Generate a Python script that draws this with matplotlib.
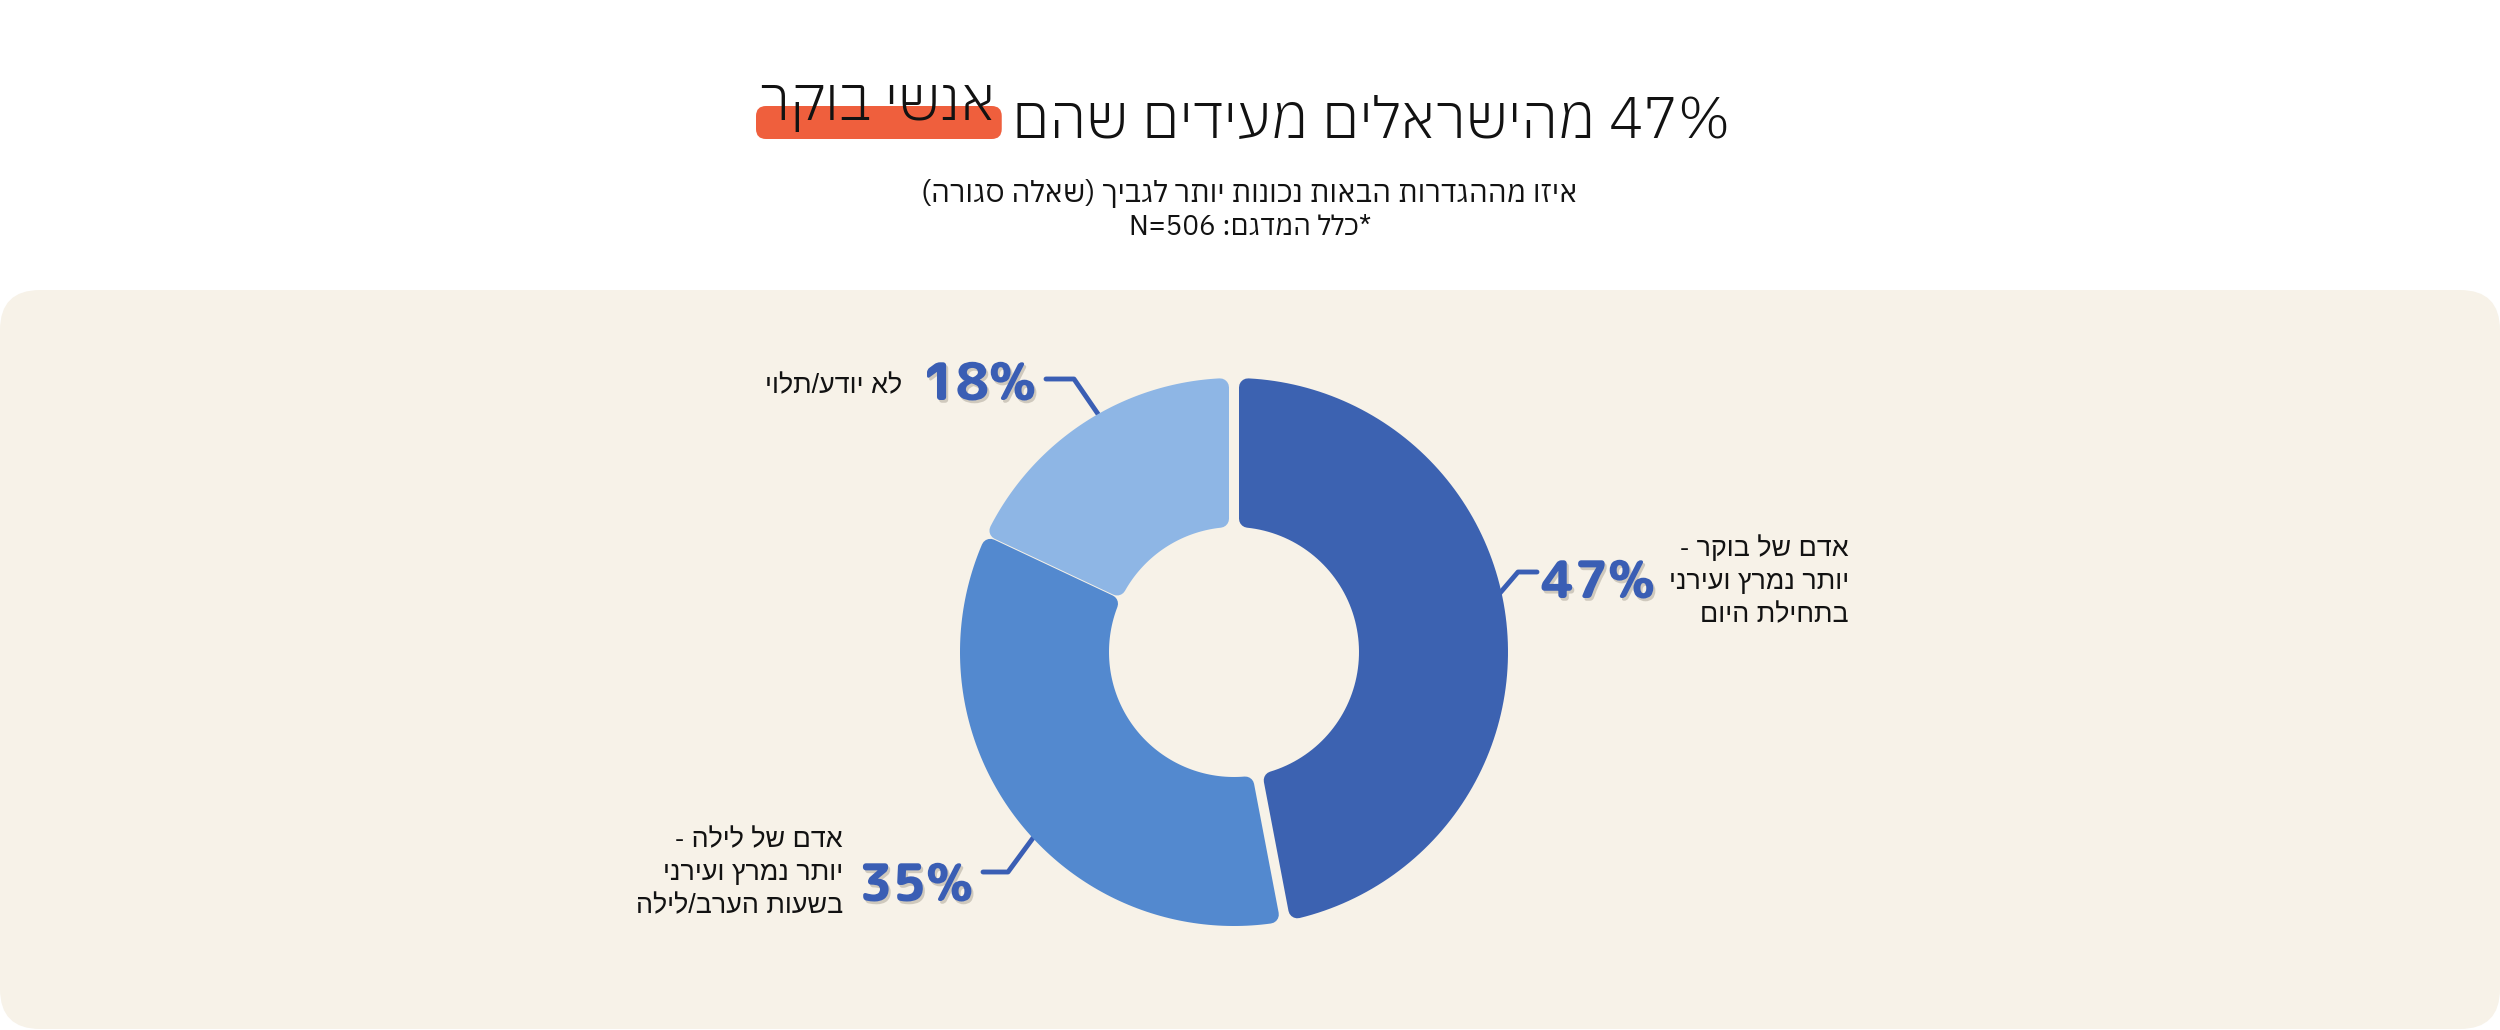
import re
import matplotlib
matplotlib.use('Agg')
import numpy as np
import matplotlib.pyplot as plt
import matplotlib.patheffects as pe
from matplotlib.patches import FancyBboxPatch, Polygon

plt.rcParams['font.family'] = ['Liberation Sans', 'DejaVu Sans']

W, H = 2500, 1030

# --- data -------------------------------------------------------------
title_main = "47% מהישראלים מעידים שהם"
title_mark = "אנשי בוקר"
subtitle = "איזו מההגדרות הבאות נכונות יותר לגביך (שאלה סגורה)"
sample_note = "*כלל המדגם: N=506"

values = [47, 35, 18]
category_lines = [
    ["אדם של בוקר -", "יותר נמרץ ועירני", "בתחילת היום"],
    ["אדם של לילה -", "יותר נמרץ ועירני", "בשעות הערב/לילה"],
    ["לא יודע/תלוי"],
]

PANEL = '#f7f2e8'
SLICE_COLORS = ['#3c62b1', '#5389cf', '#8eb6e5']
BLUE_TEXT = '#3a5eb4'
MARK = '#ef5f3d'
INK = '#121212'

HEAD = ['IBM Plex Sans Hebrew', 'Liberation Sans', 'DejaVu Sans']
BODY = ['Open Sans Hebrew', 'Liberation Sans', 'DejaVu Sans']
ROUND = ['Rounded Mplus 1c', 'Liberation Sans', 'DejaVu Sans']


def rtl(s):
    # matplotlib has no bidi: reverse hebrew, keep latin/digit runs
    s = s[::-1]
    s = re.sub(r'[A-Za-z0-9%=.]+', lambda m: m.group(0)[::-1], s)
    return s.translate(str.maketrans('()', ')('))


fig = plt.figure(figsize=(W / 100, H / 100), dpi=100)
fig.patch.set_facecolor('white')
ax = fig.add_axes([0, 0, 1, 1])
ax.set_xlim(0, W)
ax.set_ylim(H, 0)
ax.axis('off')
rend = fig.canvas.get_renderer()


def width(t):
    return t.get_window_extent(rend).width


def fit(t, target):
    t.set_fontsize(t.get_fontsize() * target / width(t))
    return t.get_fontsize()


ax.add_patch(FancyBboxPatch((0, 290), W, 739,
                            boxstyle="round,pad=0,rounding_size=40",
                            fc=PANEL, ec='none', zorder=0))

# --- title with highlighted words ------------------------------------
t_main = ax.text(0, 138, rtl(title_main), fontsize=40, color=INK, family=HEAD,
                 weight=300, ha='left', va='baseline', zorder=3)
t_mark = ax.text(0, 120, rtl(title_mark), fontsize=40, color=INK, family=HEAD,
                 weight=300, ha='left', va='baseline', zorder=3)
gap = 16
scale = (970 - gap) / (width(t_main) + width(t_mark))
t_main.set_fontsize(40 * scale)
t_mark.set_fontsize(40 * scale)
w_main, w_mark = width(t_main), width(t_mark)
x0 = 1245 - (w_mark + gap + w_main) / 2
t_mark.set_x(x0)
t_main.set_x(x0 + w_mark + gap)
ax.add_patch(FancyBboxPatch((x0 - 4, 106), w_mark + 10, 33,
                            boxstyle="round,pad=0,rounding_size=10",
                            fc=MARK, ec='none', zorder=2))

t_sub = ax.text(1249, 202, rtl(subtitle), fontsize=20, color=INK, family=HEAD,
                ha='center', va='baseline')
fit(t_sub, 658)
t_note = ax.text(1250, 235, rtl(sample_note), fontsize=20, color=INK,
                 family=HEAD, ha='center', va='baseline')
fit(t_note, 242)

# --- donut ------------------------------------------------------------
cx, cy, R_px, r_in_px = 1234, 652, 274, 125
S = 300
pax = fig.add_axes([(cx - S) / W, 1 - (cy + S) / H, 2 * S / W, 2 * S / H])
wedges, _ = pax.pie(values, startangle=90, counterclock=False, radius=1,
                    colors=SLICE_COLORS,
                    wedgeprops=dict(width=1 - r_in_px / R_px))
pax.set_xlim(-S / R_px, S / R_px)
pax.set_ylim(-S / R_px, S / R_px)
pax.axis('off')

# gap (px) at each boundary: top, 47/35, 35/18
boundary_gap = [10, 10, 1]
pad_px = 9
pad = pad_px / R_px
ro = 1 - pad
ri = r_in_px / R_px + pad
shadow = [pe.SimplePatchShadow(offset=(3, -4), shadow_rgbFace='#7d715c', alpha=0.35),
          pe.Normal()]
for i, w in enumerate(wedges):
    w.set_visible(False)
    d_start = pad + boundary_gap[i] / 2 / R_px
    d_end = pad + boundary_gap[(i + 1) % 3] / 2 / R_px
    a2o = w.theta2 - np.degrees(np.arcsin(d_start / ro))
    a1o = w.theta1 + np.degrees(np.arcsin(d_end / ro))
    a2i = w.theta2 - np.degrees(np.arcsin(d_start / ri))
    a1i = w.theta1 + np.degrees(np.arcsin(d_end / ri))
    ta = np.radians(np.linspace(a1o, a2o, 120))
    tb = np.radians(np.linspace(a2i, a1i, 80))
    pts = np.vstack([np.c_[ro * np.cos(ta), ro * np.sin(ta)],
                     np.c_[ri * np.cos(tb), ri * np.sin(tb)]])
    col = SLICE_COLORS[i]
    poly = Polygon(pts, closed=True, fc=col, ec=col, lw=2 * pad_px * 0.72,
                   joinstyle='round', zorder=2)
    poly.set_path_effects(shadow)
    pax.add_patch(poly)

# --- labels -----------------------------------------------------------
pct_pos = [(1598, 598), (916, 901), (979, 400)]
leaders = [
    [(1537, 572), (1518, 572), (1500, 593)],
    [(983, 872), (1008, 872), (1033, 838)],
    [(1046, 379), (1074, 379), (1098, 414)],
]
label_anchor = [(1849, 556), (843, 847), (902, 393)]
line_step = 33
txt_shadow = [pe.withSimplePatchShadow(offset=(1.5, -2), shadow_rgbFace='#5a5040', alpha=0.25)]

probe = ax.text(0, 0, f"{values[0]}%", fontsize=42, weight=800, family=ROUND)
pct_size = fit(probe, 114)
probe.remove()
probe = ax.text(0, 0, rtl(category_lines[0][1]), fontsize=18, family=BODY)
body_size = fit(probe, 180)
probe.remove()

for i, v in enumerate(values):
    px, py = pct_pos[i]
    ax.text(px, py, f"{v}%", fontsize=pct_size, weight=800, family=ROUND,
            color=BLUE_TEXT, ha='center', va='baseline',
            path_effects=txt_shadow, zorder=4)
    xs, ys = zip(*leaders[i])
    ax.plot(xs, ys, color=BLUE_TEXT, lw=3.5, solid_joinstyle='round',
            solid_capstyle='round', zorder=4)
    lx, ly = label_anchor[i]
    for j, line in enumerate(category_lines[i]):
        ax.text(lx, ly + j * line_step, rtl(line), fontsize=body_size,
                family=BODY, color=INK, ha='right', va='baseline', zorder=4)

fig.savefig('out.png', dpi=100, facecolor=fig.get_facecolor())
